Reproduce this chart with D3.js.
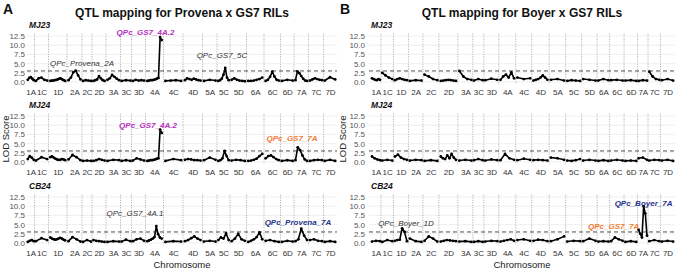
<!DOCTYPE html>
<html>
<head>
<meta charset="utf-8">
<script src="https://cdn.jsdelivr.net/npm/d3@7"></script>
<style>
  body { margin: 0; background: #fff; }
  svg { display: block; font-family: "Liberation Sans Narrow", "Liberation Sans", Arial, sans-serif; }
</style>
</head>
<body>
<svg id="chart" width="676" height="273"></svg>
<script>
// chromosome names (same order in both populations)
var chroms = ["1A","1C","1D","2A","2C","2D","3A","3C","3D","4A","4C","4D","5A","5C","5D","6A","6C","6D","7A","7C","7D"];
// map lengths (cM) for each population
var lenProvena = [75,140,185,150,100,140,145,110,140,180,195,195,145,130,165,175,165,135,145,150,130];
var lenBoyer   = [100,125,150,145,160,190,150,110,150,170,160,175,165,160,155,125,145,135,105,125,140];

var envs = ["MJ23","MJ24","CB24"];
var yTicks = [0, 2.5, 5, 7.5, 10, 12.5];
var threshold = 3.0;

// LOD profiles, one string per chromosome (markers spread along the chromosome)
var lodProvenaMJ23 = ["0.6 1.1 1.3 0.9 0.5","0.3 1.0 1.2 0.6 0.4","0.3 0.4 0.4 0.5 0.6 0.7 0.9 1.0 0.7 0.5 0.3",
  "0.5 1.2 2.6 3.1 1.8 0.7","0.3 0.5 0.4 0.3","0.3 0.5 0.7 1.6 1.0 0.5 0.3",
  "0.6 1.0 1.9 1.4 0.9 0.5","0.3 0.5 0.4","0.3 0.6 0.4 0.5 0.4",
  "0.3 0.4 0.5 0.5 0.6 0.7 0.9 1.1 12.2 11.4","0.3 0.4 0.5 0.3","0.5 1.0 0.8 0.6 0.9 0.7 0.5 0.4",
  "0.3 0.6 0.4","0.3 0.5 0.9 2.0 3.8 1.2 0.5","0.6 1.0 0.6 0.4 0.3 0.2",
  "0.3 0.3 0.4 0.6 0.8 1.2","0.3 0.6 1.4 2.8 1.5 0.6 0.4","0.3 0.6 0.4",
  "0.5 2.9 2.4 1.6 0.9 0.4 0.3","0.4 0.7 1.0 0.8 0.6 0.5","0.4 1.3 0.7"];
var lodProvenaMJ24 = ["0.8 1.6 1.2 0.6","0.4 1.3 0.8","1.3 1.5 1.2 0.9 0.7 0.6 0.6 0.8 0.7 0.5",
  "0.7 1.9 1.3 0.5","0.3 0.4 0.3","0.3 0.5 0.8 0.6 0.4",
  "0.3 0.6 0.5","0.3 0.5 0.3","0.4 1.0 0.7 0.4",
  "0.3 0.4 0.5 0.5 0.6 0.7 0.9 1.0 8.8 7.9","0.3 0.8 0.5","0.6 0.8 0.7 0.5 0.5 0.4",
  "0.5 1.2 0.6","0.3 0.5 1.0 3.0 1.6 0.5","0.4 0.6 0.5 0.3",
  "0.3 0.4 0.6 0.9 1.6 2.2","1.0 1.6 1.8 1.3 0.8 0.5","0.3 0.5 0.3",
  "0.5 4.0 3.2 1.8 0.7 0.3","0.3 0.5 0.6 0.5","0.3 0.6 0.3"];
var lodProvenaCB24 = ["0.3 0.6 0.8 0.5","0.5 1.3 0.8","1.5 1.2 1.0 0.9 1.0 1.2 1.4 1.2 0.9 0.7",
  "0.5 1.6 1.0 0.4","0.3 0.8 0.4","0.8 0.6 0.5 0.4 0.3",
  "0.3 0.5 0.4","0.4 0.9 0.5","0.5 1.0 1.2 0.6",
  "0.5 0.7 0.9 1.2 1.6 4.6 2.4 1.5 1.2","0.3 0.5 0.4","0.5 0.8 1.3 1.8 1.2 0.8",
  "0.4 0.6 0.4","0.8 1.5 1.2 2.6 0.8","0.5 1.2 2.5 1.0 0.6",
  "0.3 0.6 1.0 1.6 2.9 1.0","0.6 0.8 0.5 0.3","0.3 0.6 0.4",
  "0.5 1.0 3.9 2.0 0.8","0.8 1.0 0.6 0.5","0.3 0.5 0.3"];

var lodBoyerMJ23 = ["1.0 0.8 0.6 0.5 0.8 0.6","2.5 1.8 1.2 0.8","0.5 0.8 1.0 0.8 0.6 0.5",
  "0.3 0.5 0.4","2.0 1.5 0.8 0.5","0.3 0.4 0.5 0.6 0.5 0.4 0.3",
  "3.0 1.5 0.8 0.6","0.4 0.8 0.5","0.5 0.9 0.6",
  "0.6 1.5 2.0 1.2 2.6 1.0","1.2 0.8 1.0","0.4 0.6 0.8 1.2 1.8 1.2 0.6",
  "0.6 0.8 0.4","0.3 0.5 0.4 0.3","0.8 0.6 0.4",
  "0.4 0.8 0.5","0.5 0.6 0.4","0.4 0.5 0.3",
  "0.3 0.5 0.4","2.8 1.5 0.8 0.6","0.5 0.8 0.4"];
var lodBoyerMJ24 = ["1.5 1.0 0.7 0.5","0.4 0.6 0.4","1.5 2.0 1.2 0.8 0.6",
  "0.4 0.6 0.5","0.3 0.5 0.3","1.5 1.0 0.8 1.8 1.0 2.2 1.2 0.6",
  "0.4 0.6 0.4","0.5 0.8 0.5","0.4 0.7 0.5",
  "0.5 2.2 1.0 0.6","0.5 0.9 0.6","0.5 0.6 0.5 0.4",
  "1.2 1.0 0.6","0.4 0.3 0.5 0.8","0.4 0.6 0.4",
  "0.3 0.5 0.3","0.4 0.6 0.4","0.3 0.4 0.3",
  "1.0 1.2 0.6","0.4 0.6 0.5","0.4 0.6 0.3"];
var lodBoyerCB24 = ["0.4 0.6 0.5","0.3 0.8 0.5","0.6 0.8 0.9 4.0 3.0 0.5",
  "1.2 0.5 0.3","0.6 1.8 1.2 0.4","0.4 0.6 0.8 0.7 0.6 0.5",
  "0.4 0.5 0.3","0.3 0.5 0.3","0.4 0.6 0.5",
  "0.4 0.6 0.8 1.0 0.6","0.8 1.0 0.6","0.6 0.9 0.8 0.5",
  "0.5 1.0 1.8","0.4 0.6 0.5","0.5 1.2 0.6",
  "0.4 0.5 0.4","0.5 1.5 1.0 0.6","0.3 0.5 0.3",
  "3.6 2.5 1.5 10.0 8.0 2.0","0.5 0.8 0.5","0.4 0.6 0.4"];

// QTL labels: chromosome, position in cM, LOD height of the label, style
var qtlProvenaMJ23 = [
  {name: "QPc_Provena_2A", chrom: "2A", cM: 150, lod: 5.2, kind: "minor"},
  {name: "QPc_GS7_4A.2", chrom: "4A", cM: 0, lod: 13.6, kind: "gs7"},
  {name: "QPc_GS7_5C", chrom: "5C", cM: 50, lod: 7.3, kind: "minor"}];
var qtlProvenaMJ24 = [
  {name: "QPc_GS7_4A.2", chrom: "4A", cM: 25, lod: 10.0, kind: "gs7"},
  {name: "QPc_GS7_7A", chrom: "7A", cM: -20, lod: 6.5, kind: "gs7b"}];
var qtlProvenaCB24 = [
  {name: "QPc_GS7_4A.1", chrom: "3D", cM: 35, lod: 8.2, kind: "minor"},
  {name: "QPc_Provena_7A", chrom: "7A", cM: 40, lod: 5.7, kind: "parent"}];
var qtlBoyerMJ23 = [], qtlBoyerMJ24 = [];
var qtlBoyerCB24 = [
  {name: "QPc_Boyer_1D", chrom: "1D", cM: 125, lod: 5.4, kind: "minor"},
  {name: "QPc_Boyer_7A", chrom: "7A", cM: 60, lod: 10.9, kind: "parent"},
  {name: "QPc_GS7_7A", chrom: "6C", cM: 40, lod: 4.6, kind: "gs7b"}];

var qtlStyle = {
  minor:  {fill: "#333333", weight: "normal"},
  gs7:    {fill: "#b72fc0", weight: "bold"},
  gs7b:   {fill: "#f07c34", weight: "bold"},
  parent: {fill: "#26358c", weight: "bold"}
};

var panels = [
  {letter: "A", title: "QTL mapping for Provena x GS7 RILs", lens: lenProvena,
   lod: [lodProvenaMJ23, lodProvenaMJ24, lodProvenaCB24], qtl: [qtlProvenaMJ23, qtlProvenaMJ24, qtlProvenaCB24],
   left: 27, right: 337, first: 27, axisX: 28, letterX: 3},
  {letter: "B", title: "QTL mapping for Boyer x GS7 RILs", lens: lenBoyer,
   lod: [lodBoyerMJ23, lodBoyerMJ24, lodBoyerCB24], qtl: [qtlBoyerMJ23, qtlBoyerMJ24, qtlBoyerCB24],
   left: 369, right: 675, first: 371, axisX: 368, letterX: 340}
];

// facet vertical layout: pixel of LOD 0 and of LOD 12.5
var facetZero = [82, 162, 243];
var facetTop = [36, 116, 197];

var svg = d3.select("#chart");

panels.forEach(function (p) {
  var starts = [], acc = 0;
  p.lens.forEach(function (l) { starts.push(acc); acc += l; });
  var x = d3.scaleLinear().domain([0, acc]).range([p.first, p.right - 0.5]);
  var centers = starts.map(function (s, k) { return s + p.lens[k] / 2; });
  var g = svg.append("g");

  g.append("text").attr("x", p.letterX).attr("y", 14)
    .attr("font-size", 14).attr("font-weight", "bold").attr("fill", "#111")
    .style("font-family", "Liberation Sans, Arial, sans-serif")
    .text(p.letter);
  g.append("text").attr("x", (p.left + p.right) / 2).attr("y", 17)
    .attr("text-anchor", "middle").attr("font-size", 12).attr("font-weight", "bold").attr("fill", "#111")
    .text(p.title);

  envs.forEach(function (env, i) {
    var y = d3.scaleLinear().domain([0, 12.5]).range([facetZero[i], facetTop[i]]);
    var top = y(13.1), bottom = y(-0.6);
    var f = g.append("g");

    // facet label
    f.append("text").attr("x", p.left + 2).attr("y", facetTop[i] - 8)
      .attr("font-size", 8.5).attr("font-weight", "bold").attr("font-style", "italic").attr("fill", "#111")
      .text(env);

    // horizontal grid
    f.selectAll(".hg").data(yTicks).enter().append("line")
      .attr("x1", p.left).attr("x2", p.right)
      .attr("y1", function (d) { return y(d); }).attr("y2", function (d) { return y(d); })
      .attr("stroke", "#e6e6e6").attr("stroke-width", 0.6);

    // chromosome boundaries
    f.selectAll(".vb").data(starts.slice(1)).enter().append("line")
      .attr("x1", function (d) { return x(d); }).attr("x2", function (d) { return x(d); })
      .attr("y1", top).attr("y2", bottom)
      .attr("stroke", "#8f8f8f").attr("stroke-width", 0.8).attr("stroke-dasharray", "1,1.5");

    // LOD threshold
    f.append("line").attr("x1", p.left).attr("x2", p.right)
      .attr("y1", y(threshold)).attr("y2", y(threshold))
      .attr("stroke", "#222").attr("stroke-width", 0.8).attr("stroke-dasharray", "4,3");

    // profiles
    var line = d3.line().x(function (d) { return x(d[0]); }).y(function (d) { return y(d[1]); });
    p.lod[i].forEach(function (str, k) {
      var vals = str.split(" ").map(Number);
      var pts = vals.map(function (v, j) {
        return [starts[k] + p.lens[k] * (0.1 + 0.8 * j / (vals.length - 1)), v];
      });
      f.append("path").datum(pts).attr("d", line)
        .attr("fill", "none").attr("stroke", "#000").attr("stroke-width", 1.6).attr("stroke-linejoin", "round");
      f.selectAll(null).data(pts).enter().append("circle")
        .attr("cx", function (d) { return x(d[0]); }).attr("cy", function (d) { return y(d[1]); })
        .attr("r", 1.4).attr("fill", "#000");
    });

    // y axis
    var ya = f.append("g").attr("transform", "translate(" + p.axisX + ",0)")
      .call(d3.axisLeft(y).tickValues(yTicks).tickSize(0).tickPadding(3).tickFormat(d3.format(".1f")));
    ya.select(".domain").remove();
    ya.selectAll("text").attr("font-size", 8).attr("fill", "#555").style("font-family", "inherit");

    // x axis
    var xa = f.append("g").attr("transform", "translate(0," + (facetZero[i] + 4.5) + ")")
      .call(d3.axisBottom(x).tickValues(centers).tickSize(0).tickPadding(3)
        .tickFormat(function (d, k) { return chroms[k]; }));
    xa.select(".domain").remove();
    xa.selectAll("text").attr("font-size", 8).attr("fill", "#333").style("font-family", "inherit");

    // QTL labels
    p.qtl[i].forEach(function (q) {
      var k = chroms.indexOf(q.chrom);
      var st = qtlStyle[q.kind];
      f.append("text").attr("x", x(starts[k] + q.cM)).attr("y", y(q.lod)).attr("dy", "0.35em")
        .attr("text-anchor", "middle").attr("font-size", 8).attr("font-style", "italic")
        .attr("font-weight", st.weight).attr("fill", st.fill)
        .text(q.name);
    });
  });

  // axis titles
  g.append("text").attr("transform", "translate(" + (p.letterX + 6) + "," + ((facetZero[1] + facetTop[1]) / 2) + ") rotate(-90)")
    .attr("text-anchor", "middle").attr("font-size", 9.5).attr("fill", "#222").text("LOD Score");
  g.append("text").attr("x", (p.left + p.right) / 2).attr("y", 268)
    .attr("text-anchor", "middle").attr("font-size", 9.5).attr("fill", "#222").text("Chromosome");
});
</script>
</body>
</html>
